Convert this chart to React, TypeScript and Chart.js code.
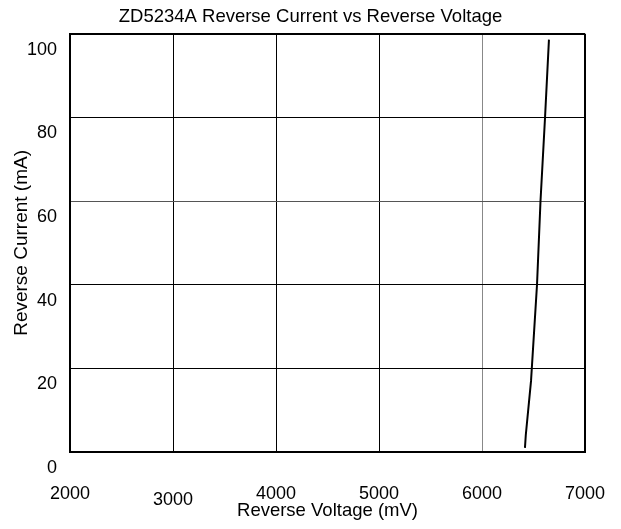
import { useEffect, useRef } from "react";
import { Chart, registerables } from "chart.js";

Chart.register(...registerables);

const TITLE = "ZD5234A Reverse Current vs Reverse Voltage";
const X_LABEL = "Reverse Voltage (mV)";
const Y_LABEL = "Reverse Current (mA)";

// Curve
const voltageMv = [6417, 6425, 6476, 6534, 6568, 6612, 6650];
const currentMa = [1, 4, 17, 40, 60, 80, 98.6];

const X_MIN = 2000;
const X_MAX = 7000;
const X_STEP = 1000;
const Y_MIN = 0;
const Y_MAX = 100;
const Y_STEP = 20;

const FAMILY = "'Liberation Sans', Arial, sans-serif";

export default function App() {
  const ref = useRef<HTMLCanvasElement>(null);

  useEffect(() => {
    if (!ref.current) return;
    const chart = new Chart(ref.current, {
      type: "scatter",
      data: {
        datasets: [
          {
            data: voltageMv.map((x, i) => ({ x, y: currentMa[i] })),
            showLine: true,
            borderColor: "#000",
            backgroundColor: "#000",
            borderWidth: 2,
            pointRadius: 0,
            tension: 0,
          },
        ],
      },
      options: {
        animation: false,
        responsive: true,
        maintainAspectRatio: false,
        layout: { padding: 0 },
        plugins: {
          legend: { display: false },
          tooltip: { enabled: false },
          title: {
            display: true,
            text: TITLE,
            color: "#000",
            font: { family: FAMILY, size: 18.5, weight: "normal", lineHeight: 0.8 },
            padding: { top: 2, bottom: 9 },
          },
        },
        scales: {
          x: {
            type: "linear",
            min: X_MIN,
            max: X_MAX,
            ticks: {
              stepSize: X_STEP,
              color: "#000",
              autoSkip: false,
              maxRotation: 0,
              padding: 31,
              font: (ctx: any) => ({
                family: FAMILY,
                size: 18,
                lineHeight: ctx.tick && ctx.tick.value === 3000 ? 1.867 : 1.2,
              }),
              callback: (v: any) => String(v),
            },
            grid: {
              drawTicks: false,
              color: (ctx: any) => (ctx.tick && ctx.tick.value === 6000 ? "#888" : "#000"),
              lineWidth: (ctx: any) => (ctx.tick && ctx.tick.value === X_MAX ? 2 : 1),
            },
            border: { color: "#000", width: 2 },
            title: {
              display: true,
              text: X_LABEL,
              color: "#000",
              font: { family: FAMILY, size: 18.5 },
              padding: { top: 0, bottom: -1 },
            },
            afterFit: (s: any) => {
              s.height = 69;
              s.paddingLeft = 0;
              s.paddingRight = 28;
            },
          },
          y: {
            type: "linear",
            min: Y_MIN,
            max: Y_MAX,
            ticks: {
              stepSize: Y_STEP,
              color: "#000",
              padding: 13,
              labelOffset: 16,
              font: { family: FAMILY, size: 18 },
              callback: (v: any) => String(v),
            },
            grid: {
              drawTicks: false,
              color: (ctx: any) => (ctx.tick && ctx.tick.value === 60 ? "#555" : "#000"),
              lineWidth: (ctx: any) => (ctx.tick && ctx.tick.value === Y_MAX ? 2 : 1),
            },
            border: { color: "#000", width: 2 },
            title: {
              display: true,
              text: Y_LABEL,
              color: "#000",
              font: { family: FAMILY, size: 19 },
              padding: { top: 2, bottom: 0 },
            },
            afterFit: (s: any) => {
              s.width = 62;
              s.paddingTop = 0;
              s.paddingBottom = 0;
            },
          },
        },
      },
    });
    return () => chart.destroy();
  }, []);

  return (
    <div style={{ width: 605, height: 513, position: "relative" }}>
      <canvas ref={ref} />
    </div>
  );
}
